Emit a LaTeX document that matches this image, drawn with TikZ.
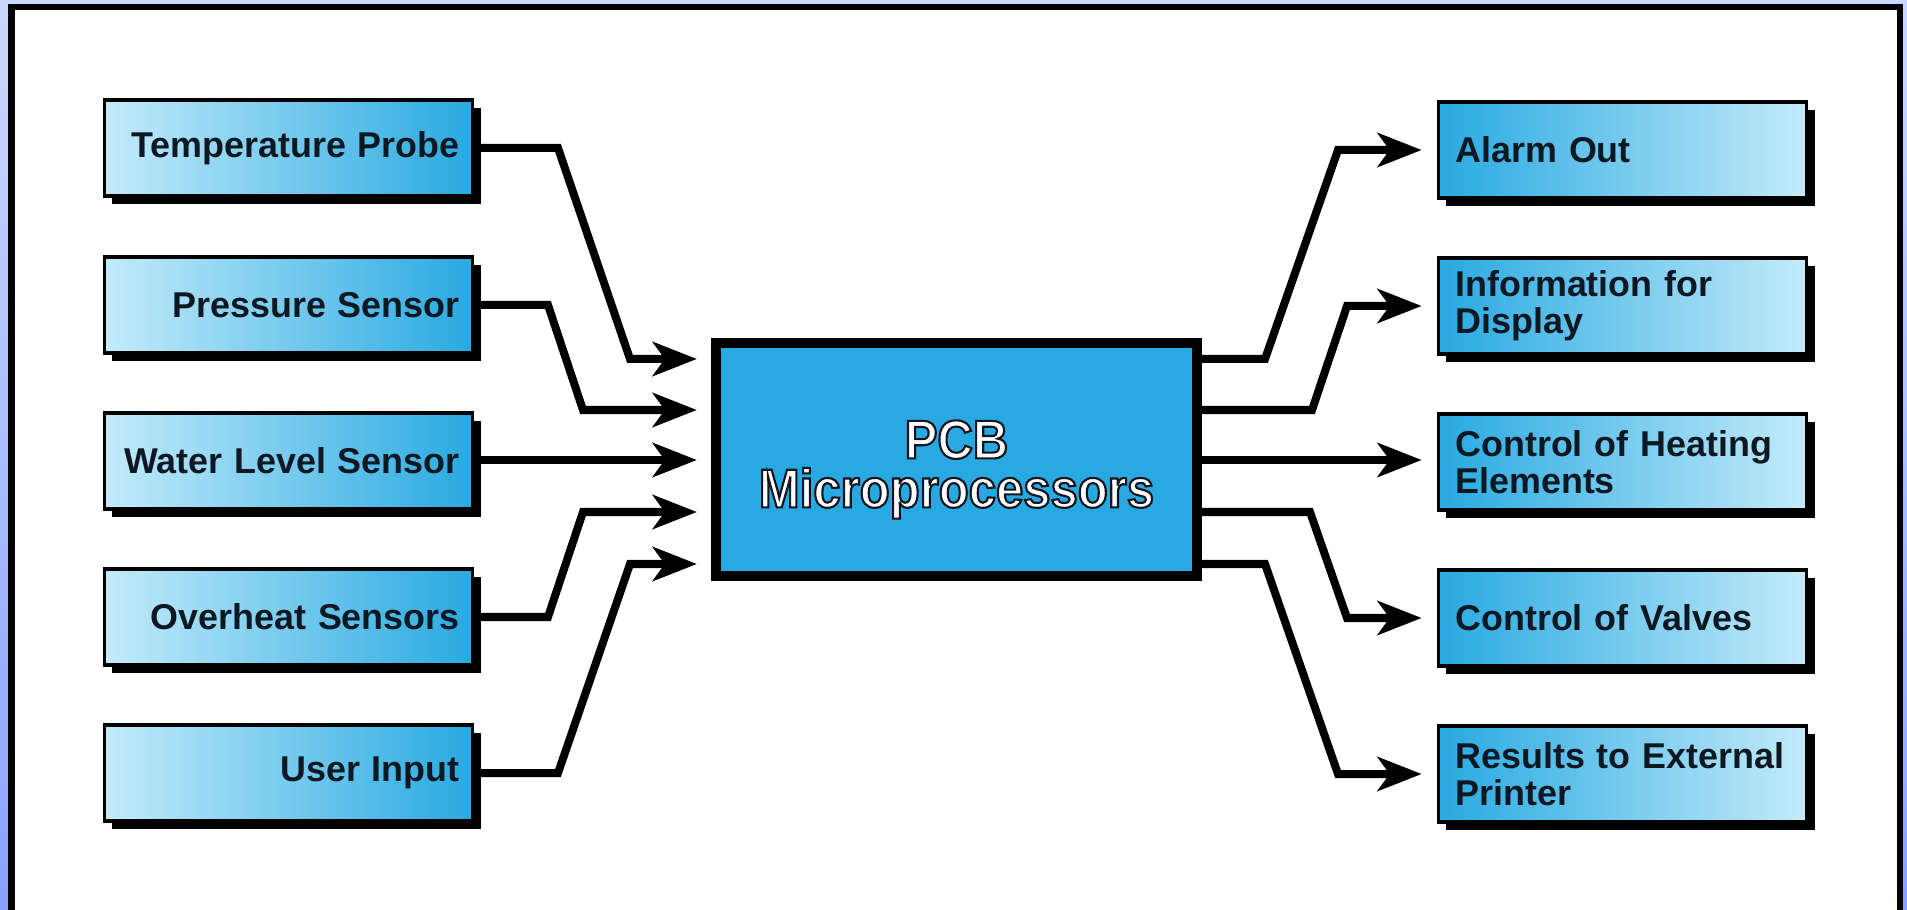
\documentclass[tikz,border=0pt]{standalone}
\usepackage{fontspec}
\setmainfont{Liberation Sans}
\newfontfamily\corefont{Liberation Sans}[FakeStretch=0.9]
\usetikzlibrary{arrows.meta,shadows,calc}
\definecolor{cyanbox}{HTML}{28A9E1}
\definecolor{paleblue}{HTML}{C4EBFA}
\definecolor{inktext}{HTML}{0E1822}
\definecolor{framehi}{HTML}{CAD8FF}
\definecolor{framelo}{HTML}{8AA2FF}
\newcommand{\outlined}[1]{\special{pdf:literal direct 1 g 0.08 0.08 0.12 RG 0.6 w 2 Tr}#1\special{pdf:literal direct 0 Tr}}

\begin{document}
\begin{tikzpicture}[
  x=0.01cm, y=-0.01cm,
  font=\fontsize{10.2}{10.4}\selectfont\bfseries,
  box/.style={draw=black, line width=0.035cm, minimum width=3.68cm, minimum height=0.96cm,
    text=inktext, drop shadow={shadow xshift=0.08cm, shadow yshift=-0.08cm, opacity=1, fill=black}},
  inbox/.style={box, text width=3.42cm, inner xsep=0.13cm, align=right, left color=paleblue, right color=cyanbox},
  outbox/.style={box, text width=3.34cm, inner xsep=0.17cm, align=left, left color=cyanbox, right color=paleblue},
  corebox/.style={draw=black, line width=0.1cm, fill=cyanbox, minimum width=4.81cm, minimum height=2.33cm},
  coretext/.style={font=\corefont\bfseries\fontsize{15.5}{13.9}\selectfont, align=center, inner sep=0pt, text=white},
  conn/.style={line width=0.08cm, -{Stealth[length=0.44cm, width=0.34cm, inset=0.12cm]}},
]

% frame and panel
\useasboundingbox (0,0) rectangle (1907,910);
\shade[top color=framehi, bottom color=framelo] (0,0) rectangle (1907,910);
\draw[fill=white, line width=0.06cm] (11.5,7.5) rectangle (1900,940);

% inputs
\node[inbox] (temp) at (288.5,148) {Temperature Probe};
\node[inbox] (press) at (288.5,305) {Pressure Sensor};
\node[inbox] (water) at (288.5,461) {Water Level Sensor};
\node[inbox] (overheat) at (288.5,617) {Overheat Sensors};
\node[inbox] (user) at (288.5,773) {User Input};

% processor
\node[corebox] (cpu) at (956.5,459.5) {};
\node[coretext] (cpulabel) at ($(cpu.center)+(0,10)$) {\outlined{PCB}\\\outlined{Microprocessors}};

% outputs
\node[outbox] (alarm) at (1622.5,150) {Alarm Out};
\node[outbox] (info) at (1622.5,306) {Information for\\Display};
\node[outbox] (heat) at (1622.5,462) {Control of Heating\\Elements};
\node[outbox] (valve) at (1622.5,618) {Control of Valves};
\node[outbox] (result) at (1622.5,774) {Results to External\\Printer};

\foreach \y [count=\k] in {359,410,460,512,564} {
  \coordinate (in\k) at (cpu.west |- 0,\y);
  \coordinate (out\k) at (cpu.east |- 0,\y);
}

\draw[conn, shorten >=0.14cm] (temp.east) -- (558,148) -- (630,359) -- (in1);
\draw[conn, shorten >=0.14cm] (press.east) -- (548,305) -- (583,410) -- (in2);
\draw[conn, shorten >=0.14cm] (water.east |- in3) -- (in3);
\draw[conn, shorten >=0.14cm] (overheat.east) -- (548,617) -- (583,512) -- (in4);
\draw[conn, shorten >=0.14cm] (user.east) -- (558,773) -- (630,564) -- (in5);

\draw[conn, shorten >=0.15cm] (out1) -- (1265,359) -- (1338,150) -- (alarm.west);
\draw[conn, shorten >=0.15cm] (out2) -- (1312,410) -- (1347,306) -- (info.west);
\draw[conn, shorten >=0.15cm] (out3) -- (heat.west |- out3);
\draw[conn, shorten >=0.15cm] (out4) -- (1310,512) -- (1347,618) -- (valve.west);
\draw[conn, shorten >=0.15cm] (out5) -- (1265,564) -- (1338,774) -- (result.west);

\end{tikzpicture}
\end{document}
